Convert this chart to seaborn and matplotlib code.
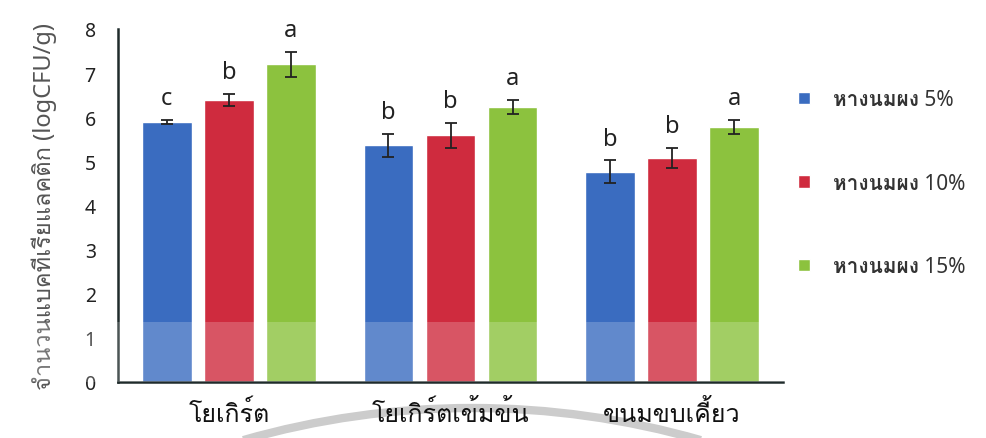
"""Bar chart of lactic acid bacteria counts in three products with whey powder levels."""

import numpy as np
import pandas as pd
import matplotlib
matplotlib.use('Agg')
import matplotlib.pyplot as plt
import seaborn as sns
from matplotlib import font_manager
from matplotlib.ft2font import FT2Font
from matplotlib.patches import Rectangle, Arc

products = ['โยเกิร์ต', 'โยเกิร์ตเข้มข้น', 'ขนมขบเคี้ยว']
levels = ['หางนมผง 5%', 'หางนมผง 10%', 'หางนมผง 15%']

means_5 = [5.89, 5.36, 4.77]
means_10 = [6.39, 5.59, 5.07]
means_15 = [7.20, 6.23, 5.77]
err_5 = [0.05, 0.27, 0.25]
err_10 = [0.14, 0.28, 0.23]
err_15 = [0.28, 0.16, 0.16]
letters_5 = ['c', 'b', 'b']
letters_10 = ['b', 'b', 'b']
letters_15 = ['a', 'a', 'a']

colors = ['#3A6CC0', '#CF2B3E', '#8CC23E']


def thai_family():
    """Finds an installed family that has Thai glyphs."""
    for f in font_manager.fontManager.ttflist:
        try:
            if 0x0E01 in FT2Font(f.fname).get_charmap():
                return f.name
        except Exception:
            pass
    return 'DejaVu Sans'


if __name__ == '__main__':

    df = pd.DataFrame({
        'product': products * 3,
        'level': [levels[0]] * 3 + [levels[1]] * 3 + [levels[2]] * 3,
        'value': means_5 + means_10 + means_15,
    })
    errs = [err_5, err_10, err_15]
    means = [means_5, means_10, means_15]
    letters = [letters_5, letters_10, letters_15]

    sns.set_style('white')
    thai = thai_family()
    plt.rcParams['font.family'] = ['Noto Sans', thai, 'DejaVu Sans']

    fig = plt.figure(figsize=(9.87, 4.39), dpi=100)
    ax = fig.add_axes([0.1196, 0.1276, 0.6737, 0.8041])

    sns.barplot(data=df, x='product', y='value', hue='level', order=products,
                hue_order=levels, palette=colors, width=0.84, gap=0.2,
                errorbar=None, saturation=1, ax=ax)

    for cont, m, e, lab in zip(ax.containers, means, errs, letters):
        xs = [b.get_x() + b.get_width() / 2 for b in cont]
        ax.errorbar(xs, m, yerr=e, fmt='none', ecolor='#222222',
                    elinewidth=1.3, capsize=4, capthick=1.3)
        for x, mv, ev, t in zip(xs, m, e, lab):
            ax.text(x, mv + ev + 0.36, t, ha='center', va='baseline',
                    fontsize=17, color='#222222')

    ax.set_ylim(0, 8)
    ax.set_xlim(-0.5, 2.5)
    ax.set_yticks(range(0, 9))
    ax.tick_params(axis='y', labelsize=14, length=0, pad=16, labelcolor='#222222')
    ax.tick_params(axis='x', labelsize=18, length=0, pad=13, labelcolor='#111111')
    ax.set_xlabel('')
    ax.set_ylabel('จำนวนแบคทีเรียแลคติก (logCFU/g)', fontsize=17,
                  color='#555555', labelpad=20)
    sns.despine(ax=ax)
    for s in ['left', 'bottom']:
        ax.spines[s].set_color('#1f2b2b')
        ax.spines[s].set_linewidth(1.8)

    leg = ax.legend(loc='center left', bbox_to_anchor=(0.79, 0.58),
                    bbox_transform=fig.transFigure, frameon=False,
                    handlelength=0.55, handleheight=0.55, handletextpad=1.1,
                    labelspacing=3.0, fontsize=15)
    for t in leg.get_texts():
        t.set_color('#333333')
        t.set_fontweight('bold')

    # pale watermark band and arc seen at the bottom of the picture
    fig.patches.append(Rectangle((0, 1 - 383 / 439), 1, 60 / 439,
                                 transform=fig.transFigure, facecolor='white',
                                 alpha=0.2, edgecolor='none', zorder=5))
    fig.patches.append(Arc((4.72, 0.30 - 8.3), 16.6, 16.6, theta1=74, theta2=106,
                           transform=fig.dpi_scale_trans, color='#cccccc',
                           lw=6, zorder=-1))

    fig.savefig('out.png', dpi=100)
